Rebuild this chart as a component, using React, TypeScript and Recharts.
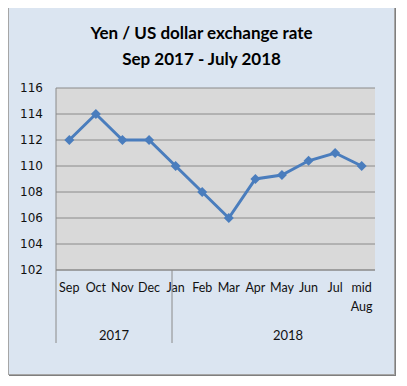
import { CartesianGrid, Line, LineChart, XAxis, YAxis } from "recharts";

const months = ["Sep", "Oct", "Nov", "Dec", "Jan", "Feb", "Mar", "Apr", "May", "Jun", "Jul", "mid Aug"];
const rates = [112, 114, 112, 112, 110, 108, 106, 109, 109.3, 110.4, 111, 110];
const years = ["2017", "2018"];
const yearMonthCounts = [4, 8];
const yTicks = [102, 104, 106, 108, 110, 112, 114, 116];

const BLUE = "#4a7dbd";
const LINE_GRAY = "#8a8a8a";
const MONTH_AXIS_H = 40;
const YEAR_AXIS_H = 33;

// each month sits in the middle of its slot, like Excel's category axis
const data = months.map((month, i) => ({ pos: i + 0.5, month, rate: rates[i] }));

// boundaries and centres of the year groups, in month units
const bounds = yearMonthCounts.reduce<number[]>((acc, n) => [...acc, acc[acc.length - 1] + n], [0]);
const yearCentres = years.map((_, i) => (bounds[i] + bounds[i + 1]) / 2);

const Diamond = (props: any) => {
  const { cx, cy, index } = props;
  const r = 5;
  return (
    <path
      key={index}
      d={`M${cx},${cy - r} L${cx + r},${cy} L${cx},${cy + r} L${cx - r},${cy} Z`}
      fill={BLUE}
    />
  );
};

const MonthTick = (props: any) => {
  const { x, y, payload } = props;
  const label = months[Math.floor(payload.value)] ?? "";
  const lines = label.split(" ");
  return (
    <text x={x} y={y + 22} textAnchor="middle" fontSize={12.5} fontFamily="Lato" fill="#111">
      {lines.map((l, i) => (
        <tspan key={l} x={x} dy={i === 0 ? 0 : 19}>
          {l}
        </tspan>
      ))}
    </text>
  );
};

const YearTick = (props: any) => {
  const { x, y, payload } = props;
  const v = payload.value;
  if (bounds.includes(v)) {
    return <line x1={x} x2={x} y1={y - MONTH_AXIS_H} y2={y + YEAR_AXIS_H} stroke={LINE_GRAY} strokeWidth={1} />;
  }
  return (
    <text x={x} y={y + 30} textAnchor="middle" fontSize={13} fontFamily="Lato" fill="#111">
      {years[yearCentres.indexOf(v)]}
    </text>
  );
};

export default function App() {
  return (
    <div
      style={{
        position: "relative",
        top: -1,
        width: 385,
        height: 366,
        background: "#dbe5f1",
        border: "1px solid #a6a6a6",
        boxShadow: "1px 1px 0 #7f7f7f",
      }}
    >
      <div
        style={{
          position: "absolute",
          top: 12,
          left: 0,
          width: "100%",
          textAlign: "center",
          fontFamily: "Lato",
          fontWeight: 700,
          fontSize: 17,
          lineHeight: "26px",
          color: "#000",
        }}
      >
        Yen / US dollar exchange rate
        <br />
        Sep 2017 - July 2018
      </div>
      <div style={{ position: "absolute", top: 0, left: 0 }}>
        <LineChart width={385} height={366} data={data} margin={{ top: 80, right: 19, bottom: 31, left: 0 }}>
          <CartesianGrid vertical={false} stroke={LINE_GRAY} fill="#d9d9d9" fillOpacity={1} />
          <XAxis
            xAxisId="m"
            dataKey="pos"
            type="number"
            domain={[0, months.length]}
            ticks={data.map((d) => d.pos)}
            height={MONTH_AXIS_H}
            axisLine={{ stroke: LINE_GRAY }}
            tickLine={false}
            tickSize={0}
            tickMargin={0}
            interval={0}
            tick={<MonthTick />}
          />
          <XAxis
            xAxisId="yr"
            type="number"
            domain={[0, months.length]}
            ticks={[...bounds, ...yearCentres].sort((a, b) => a - b)}
            height={YEAR_AXIS_H}
            axisLine={false}
            tickLine={false}
            tickSize={0}
            tickMargin={0}
            interval={0}
            tick={<YearTick />}
          />
          <YAxis
            domain={[102, 116]}
            ticks={yTicks}
            width={47}
            axisLine={{ stroke: LINE_GRAY }}
            tickLine={false}
            tickSize={0}
            tickMargin={13}
            tick={{ fontSize: 12, fontFamily: "DejaVu Sans", fill: "#111" }}
          />
          <Line
            xAxisId="m"
            dataKey="rate"
            stroke={BLUE}
            strokeWidth={3}
            dot={<Diamond />}
            activeDot={false}
            isAnimationActive={false}
          />
        </LineChart>
      </div>
    </div>
  );
}
